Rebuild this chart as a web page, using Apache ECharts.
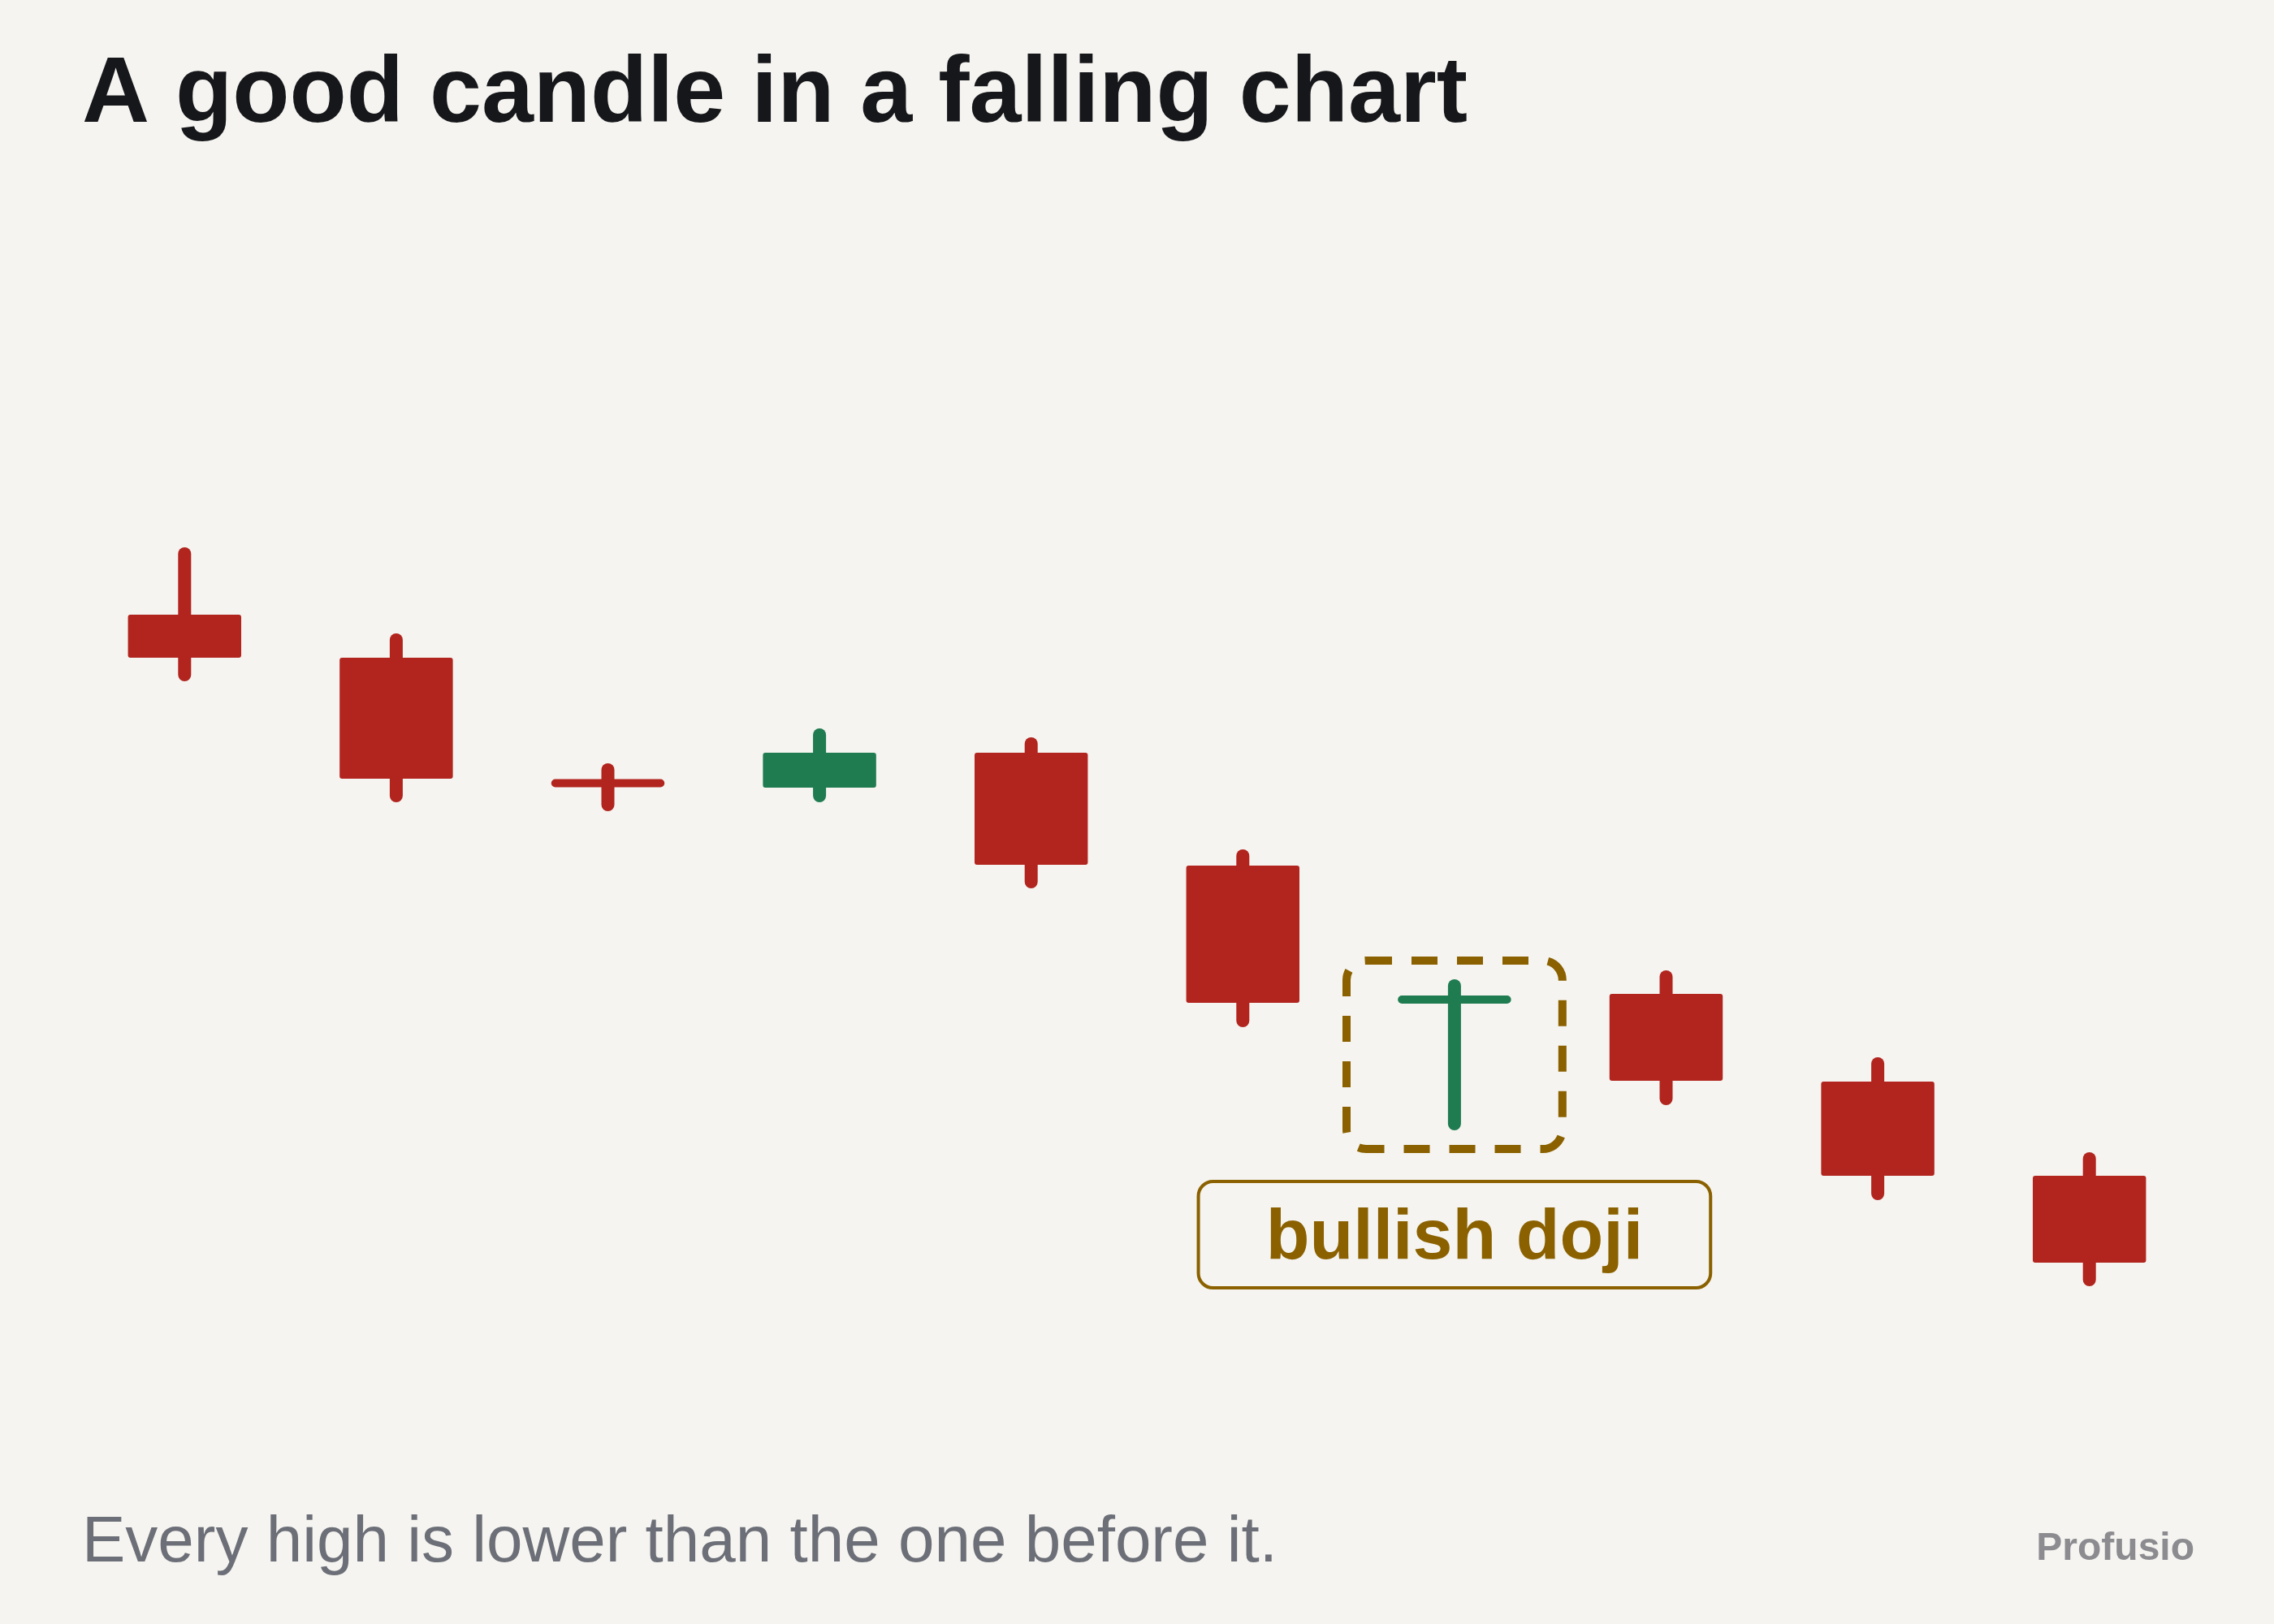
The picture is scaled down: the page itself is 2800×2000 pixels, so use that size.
<!DOCTYPE html>
<html>
<head>
<meta charset="utf-8">
<title>A good candle in a falling chart</title>
<script src="https://cdn.jsdelivr.net/npm/echarts@6/dist/echarts.min.js"></script>
<style>
  html, body { margin: 0; padding: 0; background: #f5f4f0; }
  #chart { width: 2800px; height: 2000px; }
</style>
</head>
<body>
<div id="chart"></div>
<script>
// candles (price units are arbitrary)
const days   = ['1', '2', '3', '4', '5', '6', '7', '8', '9', '10'];
const opens  = [104.3, 99.0, 83.6, 83.0, 87.3, 73.4, 56.9, 57.6, 46.8, 35.2];
const closes = [ 99.0, 84.1, 83.5, 87.3, 73.5, 56.5, 56.9, 46.9, 35.2, 24.5];
const lows   = [ 96.9, 82.0, 80.9, 82.0, 71.4, 54.3, 41.6, 44.7, 33.0, 22.4];
const highs  = [111.8, 101.2, 85.2, 89.5, 88.4, 74.6, 58.6, 59.7, 49.0, 37.3];

// the candle that gets the callout
const markIndex = 6;
const markLabel = 'bullish doji';

const RED = '#b2241e';
const GREEN = '#1f7b50';
const GOLD = '#8b6100';
const FONT = '"Liberation Sans", Arial, Helvetica, sans-serif';

const rows = days.map((d, i) => [i, opens[i], closes[i], lows[i], highs[i]]);

function renderCandle(params, api) {
    const i = api.value(0);
    const o = api.value(1), c = api.value(2), l = api.value(3), h = api.value(4);
    const top = api.coord([i, Math.max(o, c)]);
    const bot = api.coord([i, Math.min(o, c)]);
    const hi = api.coord([i, h]);
    const lo = api.coord([i, l]);
    const band = api.size([1, 0])[0];
    const w = band * 0.535;
    const color = c >= o ? GREEN : RED;
    const bh = Math.max(bot[1] - top[1], 10);
    const cy = (top[1] + bot[1]) / 2;
    // a doji body is only a bar, so give it round ends
    const r = bh <= 12 ? bh / 2 : 3;

    const children = [
        {
            type: 'line',
            shape: { x1: hi[0], y1: hi[1], x2: lo[0], y2: lo[1] },
            style: { stroke: color, lineWidth: 16, lineCap: 'round' }
        },
        {
            type: 'rect',
            shape: { x: top[0] - w / 2, y: cy - bh / 2, width: w, height: bh, r: r },
            style: { fill: color }
        }
    ];

    if (i === markIndex) {
        // dashed frame round the candle, label box below it
        const bx = hi[0] - band * 0.51;
        const by = hi[1] - 31;
        const bw = band * 1.02;
        const bhh = lo[1] + 31 - by;
        children.push({
            type: 'rect',
            shape: { x: bx, y: by, width: bw, height: bhh, r: 24 },
            style: { fill: 'none', stroke: GOLD, lineWidth: 10, lineDash: [32, 24] }
        });
        const lw = band * 2.42;
        const ly = by + bhh + 40;
        const lh = 131;
        children.push({
            type: 'rect',
            shape: { x: hi[0] - lw / 2, y: ly, width: lw, height: lh, r: 18 },
            style: { fill: 'none', stroke: GOLD, lineWidth: 4 }
        });
        children.push({
            type: 'text',
            x: hi[0],
            y: ly + lh / 2 + 5,
            style: {
                text: markLabel,
                fill: GOLD,
                font: 'bold 88px ' + FONT,
                align: 'center',
                verticalAlign: 'middle'
            }
        });
    }
    return { type: 'group', children: children };
}

const chart = echarts.init(document.getElementById('chart'));
chart.setOption({
    backgroundColor: '#f5f4f0',
    animation: false,
    title: [
        {
            text: 'A good candle in a falling chart',
            left: 96,
            top: 56,
            textStyle: { fontFamily: FONT, fontSize: 115, fontWeight: 'bold', color: '#16171b' }
        },
        {
            text: 'Every high is lower than the one before it.',
            left: 96,
            top: 1856,
            textStyle: { fontFamily: FONT, fontSize: 80, fontWeight: 'normal', color: '#6c6f77' }
        },
        {
            text: 'Profusio',
            right: 93,
            top: 1879,
            textStyle: { fontFamily: FONT, fontSize: 48, fontWeight: 'bold', color: '#8c8c90' }
        }
    ],
    grid: { left: 97, right: 97, top: 600, bottom: 200 },
    xAxis: {
        type: 'category',
        data: days,
        show: false
    },
    yAxis: {
        type: 'value',
        min: 0,
        max: 120,
        show: false
    },
    series: [{
        type: 'custom',
        renderItem: renderCandle,
        encode: { x: 0, y: [1, 2, 3, 4] },
        data: rows,
        clip: false
    }]
});
</script>
</body>
</html>
